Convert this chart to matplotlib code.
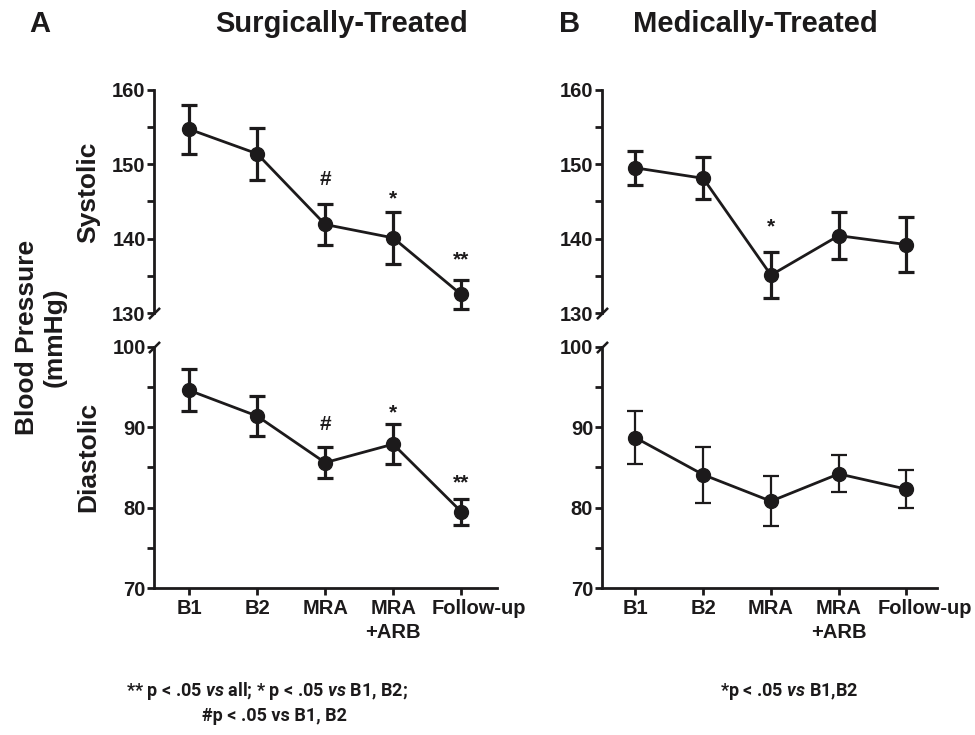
import matplotlib
matplotlib.use('Agg')
import matplotlib.pyplot as plt

plt.rcParams['font.family'] = ['Liberation Sans', 'DejaVu Sans']
plt.rcParams['font.weight'] = 'bold'
plt.rcParams['mathtext.fontset'] = 'custom'
plt.rcParams['mathtext.it'] = 'Roboto:italic:bold'
plt.rcParams['mathtext.rm'] = 'Roboto:bold'

## data (mean +/- SEM, mmHg) ##
categories = ['B1', 'B2', 'MRA', 'MRA\n+ARB', 'Follow-up']

surg_sys = [154.7, 151.4, 141.9, 140.1, 132.5]
surg_sys_err = [3.3, 3.5, 2.8, 3.5, 2.0]
surg_dia = [94.6, 91.4, 85.6, 87.9, 79.5]
surg_dia_err = [2.6, 2.5, 1.9, 2.5, 1.6]

med_sys = [149.5, 148.1, 135.1, 140.4, 139.2]
med_sys_err = [2.3, 2.8, 3.1, 3.2, 3.7]
med_dia = [88.7, 84.1, 80.8, 84.2, 82.3]
med_dia_err = [3.3, 3.5, 3.1, 2.3, 2.4]

# significance marks: (category index, label, y)
surg_sys_marks = [(2, '#', 148.0), (3, '*', 145.3), (4, '**', 137.2)]
surg_dia_marks = [(2, '#', 90.3), (3, '*', 91.8), (4, '**', 83.1)]
med_sys_marks = [(2, '*', 141.6)]

ink = '#1c1a1b'
x = list(range(len(categories)))

fig = plt.figure(figsize=(9.75, 7.35), dpi=100)

# axes positions (figure fraction)
ax_ss = fig.add_axes([0.158, 0.574, 0.352, 0.304])
ax_sd = fig.add_axes([0.158, 0.200, 0.352, 0.328])
ax_ms = fig.add_axes([0.617, 0.574, 0.344, 0.304])
ax_md = fig.add_axes([0.617, 0.200, 0.344, 0.328])


def draw(ax, y, err, elw):
    ax.errorbar(x, y, yerr=err, color=ink, lw=2.0, elinewidth=elw,
                capsize=6, capthick=elw, marker='o', ms=10, zorder=3)


draw(ax_ss, surg_sys, surg_sys_err, 2.3)
draw(ax_sd, surg_dia, surg_dia_err, 2.3)
draw(ax_ms, med_sys, med_sys_err, 2.3)
draw(ax_md, med_dia, med_dia_err, 1.6)

for ax, marks in [(ax_ss, surg_sys_marks), (ax_sd, surg_dia_marks), (ax_ms, med_sys_marks)]:
    for i, lab, yy in marks:
        ax.text(i, yy, lab, ha='center', va='center', fontsize=15,
                fontweight='bold', color=ink)

for ax in [ax_ss, ax_ms]:
    ax.set_ylim(130, 160)
    ax.set_yticks([130, 140, 150, 160])
    ax.set_yticks([135, 145, 155], minor=True)
    ax.spines['bottom'].set_visible(False)
    ax.tick_params(axis='x', bottom=False, labelbottom=False)
    # break mark at the bottom of the spine
    ax.plot([0], [0], transform=ax.transAxes, marker=[(-1, -1), (1, 1)],
            ms=8, mew=1.8, color=ink, clip_on=False)

for ax in [ax_sd, ax_md]:
    ax.set_ylim(70, 100)
    ax.set_yticks([70, 80, 90, 100])
    ax.set_yticks([75, 85, 95], minor=True)
    ax.set_xticks(x)
    # last label ("Follow-up") is drawn by hand, it sits right of its tick
    ax.set_xticklabels(categories[:-1] + [''])
    for lab in ax.get_xticklabels():
        lab.set_linespacing(1.35)
    ax.annotate(categories[-1], xy=(x[-1], 0), xycoords=('data', 'axes fraction'),
                xytext=(13, -8), textcoords='offset points', ha='center', va='top',
                fontsize=14.5, fontweight='bold', color=ink, annotation_clip=False)
    ax.plot([0], [1], transform=ax.transAxes, marker=[(-1, -1), (1, 1)],
            ms=8, mew=1.8, color=ink, clip_on=False)

ax_ss.set_xlim(-0.515, 4.53)
ax_sd.set_xlim(-0.515, 4.53)
ax_ms.set_xlim(-0.5, 4.45)
ax_md.set_xlim(-0.5, 4.45)

for ax in [ax_ss, ax_sd, ax_ms, ax_md]:
    ax.spines['top'].set_visible(False)
    ax.spines['right'].set_visible(False)
    ax.spines['left'].set_linewidth(2)
    ax.spines['bottom'].set_linewidth(2)
    ax.spines['left'].set_color(ink)
    ax.spines['bottom'].set_color(ink)
    ax.tick_params(which='both', length=5, width=2, color=ink,
                   labelsize=14.5, pad=1, labelcolor=ink)
    ax.tick_params(axis='x', pad=3)
    ax.patch.set_visible(False)

# titles and labels
fig.text(40 / 975, 1 - 24 / 735, 'A', ha='center', va='center', fontsize=21, color=ink)
fig.text(342 / 975, 1 - 24 / 735, 'Surgically-Treated', ha='center', va='center', fontsize=21, color=ink)
fig.text(570 / 975, 1 - 24 / 735, 'B', ha='center', va='center', fontsize=21, color=ink)
fig.text(755 / 975, 1 - 24 / 735, 'Medically-Treated', ha='center', va='center', fontsize=21, color=ink)

fig.text(41 / 975, 1 - 337 / 735, 'Blood Pressure\n(mmHg)', rotation=90, ha='center',
         va='center', fontsize=19, color=ink, linespacing=1.2)
fig.text(88 / 975, 1 - 192 / 735, 'Systolic', rotation=90, ha='center', va='center',
         fontsize=19, color=ink)
fig.text(88 / 975, 1 - 457 / 735, 'Diastolic', rotation=90, ha='center', va='center',
         fontsize=19, color=ink)

foot = ['Roboto', 'Liberation Sans']
fig.text(267 / 975, 1 - 691 / 735, r'** p < .05 $\mathit{vs}$ all; * p < .05 $\mathit{vs}$ B1, B2;',
         ha='center', va='center', fontsize=13, family=foot, color=ink)
fig.text(274 / 975, 1 - 716 / 735, '#p < .05 vs B1, B2',
         ha='center', va='center', fontsize=13, family=foot, color=ink)
fig.text(789 / 975, 1 - 691 / 735, r'*p < .05 $\mathit{vs}$ B1,B2',
         ha='center', va='center', fontsize=13, family=foot, color=ink)

fig.savefig('out.png', dpi=100)
